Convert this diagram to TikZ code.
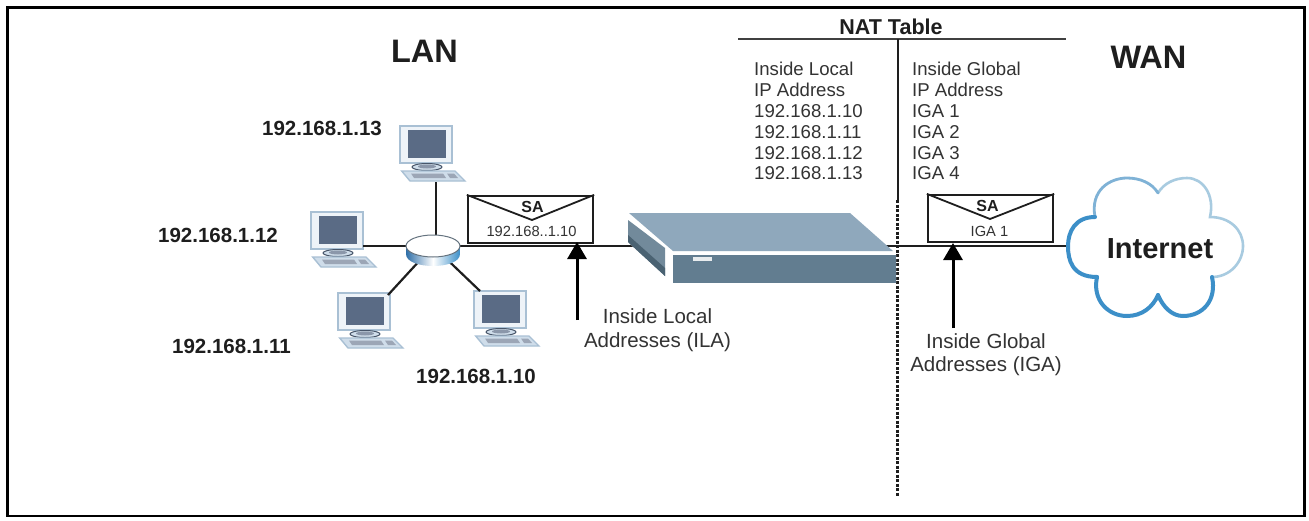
\documentclass[tikz,border=0pt]{standalone}
\usepackage{fontspec}
\setmainfont{Liberation Sans}
\usetikzlibrary{positioning, arrows.meta, shapes.geometric}
\definecolor{lineink}{HTML}{1E1E1E}
\definecolor{tabletext}{HTML}{333333}
\definecolor{pcscreen}{HTML}{5A6B85}
\definecolor{pcedge}{HTML}{A9C0D4}
\definecolor{pcbody}{HTML}{EEF3F8}
\definecolor{pckeys}{HTML}{CFDDEA}
\definecolor{natTop}{HTML}{8FA8BC}
\definecolor{natFront}{HTML}{627D90}
\definecolor{natDark}{HTML}{4A6272}
\definecolor{hubDeep}{HTML}{2F6FA8}
\definecolor{cloudLight}{HTML}{A8CBE0}
\definecolor{cloudMid}{HTML}{7FB2D6}
\definecolor{cloudDeep}{HTML}{3C8FC8}
\tikzset{
    link/.style={draw=lineink, line width=2.2pt},
    pointer/.style={draw=black, line width=3pt, -{Triangle[length=17pt,width=19pt]}},
    ghost/.style={inner sep=0pt, outer sep=0pt},
    hostlabel/.style={font=\fontsize{20.5}{24}\selectfont\bfseries, text=lineink, anchor=base west, inner sep=0pt},
    zonelabel/.style={font=\fontsize{32.5}{36}\selectfont\bfseries, text=lineink, anchor=base, inner sep=0pt},
    tablecell/.style={font=\fontsize{18.6}{20.8}\selectfont, text=tabletext, anchor=base west, inner sep=0pt},
    caption/.style={font=\fontsize{20.5}{23.5}\selectfont, text=tabletext, align=center, inner sep=0pt},
    envelope/.style={draw=lineink, fill=white, line width=2.3pt, minimum width=125pt, minimum height=47pt, inner sep=0pt},
    pics/pcunit/.style={code={
        \draw[pcedge, fill=pcbody, line width=1.4pt] (0,0) rectangle (52,37);
        \fill[pcscreen] (8,4) rectangle (46,32);
        \draw[pcscreen!80!black, fill=pckeys, line width=1pt] (27,41) ellipse [x radius=15, y radius=3.5];
        \fill[pcscreen!70!white] (27,40.5) ellipse [x radius=9, y radius=2];
        \draw[pcedge, fill=pckeys, line width=1.4pt] (1.7,45) -- (55,45) -- (65,55) -- (10,55) -- cycle;
        \fill[pcscreen!60!white] (11,47.5) -- (43,47.5) -- (46,52) -- (14,52) -- cycle;
        \fill[pcscreen!60!white] (47,47.5) -- (54,47.5) -- (58,52) -- (50,52) -- cycle;
        \coordinate (-south) at (36,56);
        \coordinate (-east) at (52,34);
        \coordinate (-ne) at (50,2);
        \coordinate (-nw) at (6,0);
    }},
}
\begin{document}
\begin{tikzpicture}[x=1pt, y=-1pt]
        \useasboundingbox (0,0) rectangle (1309,520);
        \fill[white] (0,0) rectangle (1309,520);
        \draw[black, line width=2.8pt] (7.3,7.3) rectangle (1304.5,516);

        \draw[lineink!85, line width=2.2pt] (738,39) -- (1066,39);
        \draw[lineink, line width=2.2pt] (897.6,39) -- (897.6,200);
        \draw[lineink, line width=2.6pt, dash pattern=on 3pt off 1.5pt] (897.6,200) -- (897.6,497);

        \node[ghost, minimum width=54pt, minimum height=22pt, ellipse] (hub) at (433,246) {};
        \node[ghost, minimum width=268pt, minimum height=70pt] (nat) at (762,248) {};
        \node[ghost, minimum width=176pt, minimum height=139pt] (cloud) at (1155.5,246) {};

        \pic (pcA) at (400,126) {pcunit};
        \pic (pcB) at (311,212) {pcunit};
        \pic (pcC) at (338,293) {pcunit};
        \pic (pcD) at (474,291) {pcunit};

        \draw[link] (pcA-south) -- (pcA-south |- hub.north);
        \draw[link] (pcB-east) -- (hub.west);
        \draw[link] (pcC-ne) -- (hub.center);
        \draw[link] (pcD-nw) -- (hub.center);
        \draw[link] (hub.east) -- (nat.center |- hub.east);
        \draw[link] (nat.center |- cloud.west) -- (cloud.west);

        \shade[left color=hubDeep, right color=cloudDeep, middle color=white]
            (406,246) -- (406,254) .. controls (406,270) and (460,270) .. (460,254) -- (460,246) -- cycle;
        \node[ellipse, draw=pcedge!60!black, fill=white, line width=1pt, minimum width=54pt, minimum height=22pt, inner sep=0pt] (hubtop) at (hub.center) {};

        \fill[white] (629,213) -- (850,213) -- (896,255) -- (896,283) -- (673,283) -- (665,276) -- (628,242) -- cycle;
        \fill[natTop] (629,213) -- (850,213) -- (893,251) -- (673,251) -- cycle;
        \fill[natFront] (673,255) rectangle (896,283);
        \fill[natFront!90!white] (628,220) -- (665,248) -- (665,276) -- (628,242) -- cycle;
        \fill[natDark] (628,235) -- (665,268) -- (665,276) -- (628,242) -- cycle;
        \fill[white!85!natFront] (693,257) rectangle (712,261);

        \node[envelope] (envA) at (530.5,219.5) {};
        \coordinate (tipA) at (532,220);
        \draw[lineink, line width=1.8pt] (envA.north west) -- (tipA) -- (envA.north east);
        \node[font=\fontsize{16}{18}\selectfont\bfseries, text=lineink, inner sep=0pt] (saA) at (532.5,207) {SA};
        \node[font=\fontsize{14.7}{16}\selectfont, text=tabletext, inner sep=0pt] (addrA) at (531.5,231.5) {192.168..1.10};

        \node[envelope] (envB) at (990.5,218.5) {};
        \coordinate (tipB) at (990,219);
        \draw[lineink, line width=1.8pt] (envB.north west) -- (tipB) -- (envB.north east);
        \node[font=\fontsize{16}{18}\selectfont\bfseries, text=lineink, inner sep=0pt] (saB) at (987.5,206) {SA};
        \node[font=\fontsize{14.7}{16}\selectfont, text=tabletext, inner sep=0pt] (addrB) at (989.5,231) {IGA 1};

        \coordinate (ilaFoot) at (577,320);
        \coordinate (ilaTip) at (577,242);
        \coordinate (igaFoot) at (953,328);
        \coordinate (igaTip) at (953,243);
        \draw[pointer] (ilaFoot) -- (ilaTip);
        \draw[pointer] (igaFoot) -- (igaTip);

        \draw[white, fill=white] (1068,246) .. controls (1068,232) and (1075,217) .. (1095,217)
            .. controls (1090,190) and (1110,178) .. (1127,178) .. controls (1140,178) and (1152,183) .. (1158,193)
            .. controls (1164,183) and (1175,178) .. (1187,178) .. controls (1203,178) and (1215,195) .. (1210,217)
            .. controls (1230,217) and (1243,230) .. (1243,246) .. controls (1243,262) and (1230,277) .. (1212,277)
            .. controls (1217,300) and (1203,316) .. (1183,316) .. controls (1172,316) and (1163,307) .. (1158,295)
            .. controls (1153,307) and (1142,316) .. (1127,316) .. controls (1108,316) and (1092,300) .. (1097,277)
            .. controls (1072,277) and (1068,260) .. (1068,246) -- cycle;
        \draw[cloudLight, line width=2.6pt, line cap=round] (1158,193)
            .. controls (1164,183) and (1175,178) .. (1187,178) .. controls (1203,178) and (1215,195) .. (1210,217)
            .. controls (1230,217) and (1243,230) .. (1243,246) .. controls (1243,262) and (1230,277) .. (1212,277);
        \draw[cloudMid, line width=2.8pt, line cap=round] (1095,217)
            .. controls (1090,190) and (1110,178) .. (1127,178) .. controls (1140,178) and (1152,183) .. (1158,193);
        \draw[cloudDeep, line width=4pt, line cap=round] (1095,217) .. controls (1075,217) and (1068,232) .. (1068,246)
            .. controls (1068,260) and (1072,277) .. (1097,277);
        \draw[cloudDeep, line width=4pt, line cap=round] (1097,277) .. controls (1092,300) and (1108,316) .. (1127,316)
            .. controls (1142,316) and (1153,307) .. (1158,295);
        \draw[cloudDeep, line width=4pt, line cap=round] (1212,277) .. controls (1217,300) and (1203,316) .. (1183,316)
            .. controls (1172,316) and (1163,307) .. (1158,295);
        \node[font=\fontsize{29}{32}\selectfont\bfseries, text=lineink, anchor=base, inner sep=0pt] (inet) at (1160,258) {Internet};

        \node[zonelabel] (lan) at (424.5,62) {LAN};
        \node[zonelabel] (wan) at (1148.5,68) {WAN};
        \node[font=\fontsize{21.5}{24}\selectfont\bfseries, text=lineink, anchor=base, inner sep=0pt] (nattitle) at (891,34) {NAT Table};

        \node[hostlabel] (hostA) at (262,135) {192.168.1.13};
        \node[hostlabel] (hostB) at (158,242) {192.168.1.12};
        \node[hostlabel] (hostC) at (172,353) {192.168.1.11};
        \node[hostlabel] (hostD) at (416,383) {192.168.1.10};

        \node[tablecell] (ilaA) at (754,75) {Inside Local};
        \node[tablecell] (ilaB) at (754,96) {IP Address};
        \node[tablecell] (ilaC) at (754,117) {192.168.1.10};
        \node[tablecell] (ilaD) at (754,138) {192.168.1.11};
        \node[tablecell] (ilaE) at (754,159) {192.168.1.12};
        \node[tablecell] (ilaF) at (754,179) {192.168.1.13};
        \node[tablecell] (igaA) at (912,75) {Inside Global};
        \node[tablecell] (igaB) at (912,96) {IP Address};
        \node[tablecell] (igaC) at (912,117) {IGA 1};
        \node[tablecell] (igaD) at (912,138) {IGA 2};
        \node[tablecell] (igaE) at (912,159) {IGA 3};
        \node[tablecell] (igaF) at (912,179) {IGA 4};

        \node[caption] (ilaNote) at (657.5,330) {Inside Local\\Addresses (ILA)};
        \node[caption] (igaNote) at (986,354.5) {Inside Global\\Addresses (IGA)};
    \end{tikzpicture}
\end{document}
